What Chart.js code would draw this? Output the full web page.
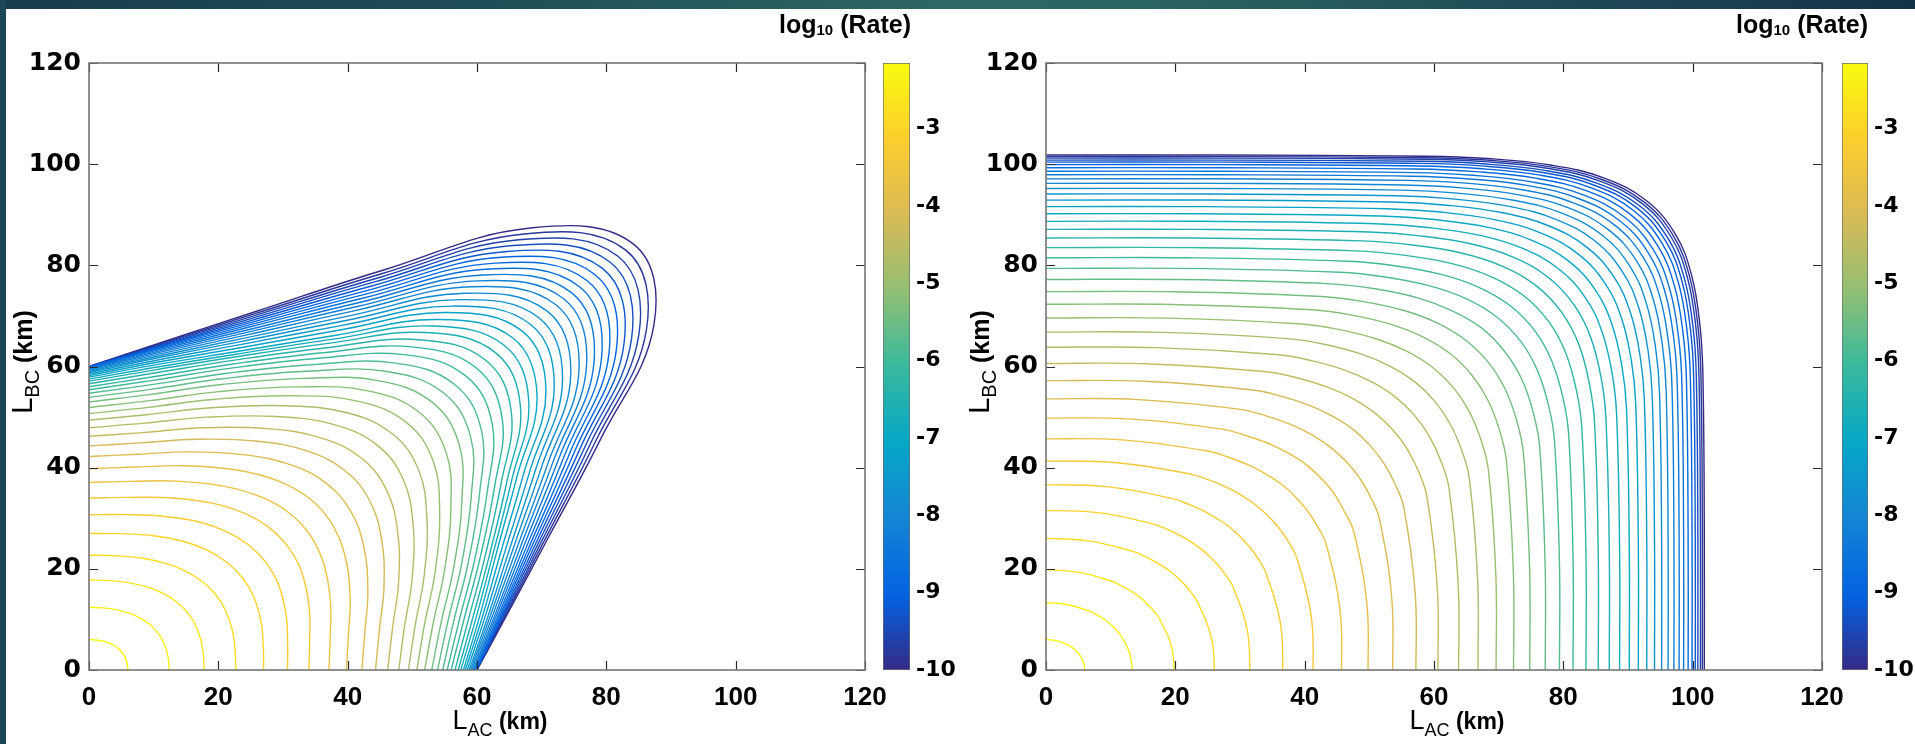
<!DOCTYPE html>
<html>
<head>
<meta charset="utf-8">
<script src="https://cdn.jsdelivr.net/npm/chart.js@4.4.0/dist/chart.umd.min.js"></script>
<style>
  body { margin: 0; width: 1915px; height: 744px; overflow: hidden; background: #fff; position: relative; }
  canvas { position: absolute; top: 0; }
  .bandTop { position: absolute; left: 0; top: 0; width: 1915px; height: 9px; z-index: 5;
    background: linear-gradient(90deg, #173c4c 0%, #1f4d57 25%, #2d6865 50%, #2b6562 60%, #1d4555 85%, #133447 100%); }
  .bandLeft { position: absolute; left: 0; top: 0; width: 6px; height: 744px; z-index: 5; background: #1b4656; }
</style>
</head>
<body>
<div class="bandTop"></div>
<div class="bandLeft"></div>
<canvas id="plotA" width="960" height="744" style="left:0px;width:960px;height:744px"></canvas>
<canvas id="barA" width="90" height="744" style="left:870px;width:90px;height:744px"></canvas>
<canvas id="plotB" width="958" height="744" style="left:957px;width:958px;height:744px"></canvas>
<canvas id="barB" width="86" height="744" style="left:1829px;width:86px;height:744px"></canvas>
<script>
// contour levels, log10(rate)
const levels = [-2.2,-2.4,-2.6,-2.8,-3.0,-3.2,-3.4,-3.6,-3.8,-4.0,-4.2,-4.4,-4.6,-4.8,-5.0,-5.2,-5.4,-5.6,-5.8,-6.0,
                -6.2,-6.4,-6.6,-6.8,-7.0,-7.2,-7.4,-7.6,-7.8,-8.0,-8.2,-8.4,-8.6,-8.8,-9.0,-9.2,-9.4,-9.6,-9.8,-10.0];
const axisTicks = [0, 20, 40, 60, 80, 100, 120];
const rateTicks = [-10, -9, -8, -7, -6, -5, -4, -3];
const rateTop = -2.15;

// left panel: distance from origin (km) of each contour along rays at these angles (deg)
const leftAngles = [0, 10, 20, 30, 38, 45];
const leftR0 = [6.0,12.4,17.8,22.7,27.0,30.7,34.0,37.1,39.8,42.2,44.3,46.2,47.9,49.4,50.7,51.9,53.0,53.9,54.7,55.4,
                56.0,56.6,57.1,57.5,57.9,58.2,58.5,58.8,59.0,59.2,59.4,59.55,59.7,59.8,59.85,59.9,59.93,59.96,59.98,60.0];
const leftR10 = [6.03,12.47,17.95,22.94,27.37,31.19,34.65,37.87,40.74,43.31,45.59,47.66,49.55,51.23,52.71,54.07,55.33,56.39,57.33,58.19,
                 58.93,59.66,60.3,60.83,61.35,61.82,62.27,62.72,63.09,63.45,63.8,64.1,64.4,64.66,64.87,65.09,65.28,65.48,65.66,65.85];
const leftR20 = [6.09,12.65,18.33,23.55,28.29,32.41,36.23,39.73,42.97,45.89,48.55,50.95,53.19,55.18,56.97,58.56,60.06,61.32,62.43,63.45,
                 64.33,65.14,65.86,66.44,67.0,67.74,68.44,69.14,69.77,70.4,70.99,71.54,72.1,72.61,73.09,73.57,74.04,74.5,74.96,75.42];
const leftR30 = [6.17,12.86,18.77,24.24,29.34,33.83,38.08,41.93,45.65,49.04,52.21,55.09,57.86,60.33,62.61,64.63,66.58,68.24,69.74,71.16,
                 72.42,73.57,74.63,75.54,76.42,77.61,78.73,79.84,80.91,81.99,82.98,83.95,84.92,85.87,86.79,87.72,88.64,89.55,90.46,91.37];
const leftR38 = [6.21,12.97,19.01,24.63,29.94,34.66,39.22,43.36,47.46,51.26,54.9,58.25,61.56,64.59,67.46,70.04,72.6,74.88,77.0,79.11,
                 81.06,82.87,84.66,86.3,87.92,89.67,91.3,92.92,94.53,96.15,97.63,99.11,100.6,102.07,103.54,105.01,106.48,107.93,109.4,110.87];
const leftR45 = [6.22,13.01,19.09,24.75,30.12,34.93,39.6,43.84,48.08,52.04,55.86,59.4,62.93,66.18,69.3,72.12,74.95,77.5,79.9,82.31,
                 84.57,86.69,88.81,90.79,92.77,94.75,96.59,98.43,100.27,102.11,103.8,105.5,107.2,108.89,110.59,112.29,113.99,115.68,117.38,119.08];

// right panel
const rightAngles = [0, 15, 30, 34, 38, 41.5, 45];
const rightR0 = [6.0,13.3,19.8,26.0,31.5,36.6,41.3,45.7,49.8,53.6,57.2,60.6,63.8,66.8,69.6,72.3,74.8,77.2,79.4,81.5,
                 83.5,85.4,87.1,88.7,90.2,91.6,92.9,94.1,95.2,96.2,97.1,97.9,98.6,99.3,99.9,100.4,100.8,101.2,101.5,101.8];
const rightR15 = [6.0,13.35,19.97,26.38,32.16,37.47,42.42,47.05,51.35,55.34,59.1,62.64,65.98,69.1,72.02,74.82,77.42,79.91,82.2,84.38,
                  86.45,88.41,90.18,91.83,93.38,94.83,96.18,97.42,98.56,99.6,100.53,101.36,102.08,102.8,103.43,103.94,104.36,104.77,105.08,105.39];
const rightR30 = [6.0,13.43,20.26,27.03,33.3,39.13,44.72,49.99,54.93,59.56,63.92,68.07,71.95,75.6,79.0,82.24,85.27,88.15,90.79,93.32,
                  95.68,97.95,99.97,101.87,103.65,105.3,106.84,108.25,109.55,110.73,111.78,112.72,113.54,114.36,115.06,115.65,116.12,116.59,116.94,117.29];
const rightR34 = [6.02,13.45,20.32,27.17,33.54,39.51,45.26,50.67,55.74,60.67,65.24,69.62,73.7,77.56,81.17,84.62,87.85,90.9,93.72,96.41,
                  98.93,101.34,103.52,105.53,107.42,109.2,110.83,112.34,113.72,114.97,116.1,117.1,117.97,118.84,119.59,120.22,120.72,121.22,121.6,121.97];
const rightR38 = [6.0,13.46,20.36,27.27,33.72,39.8,45.68,51.26,56.56,61.57,66.32,70.89,75.18,79.24,83.05,86.7,90.13,93.37,96.38,99.25,
                  101.96,104.56,106.88,109.03,111.05,112.94,114.7,116.32,117.8,119.15,120.37,121.46,122.39,123.33,124.14,124.81,125.34,125.89,126.3,126.7];
const rightR41 = [6.02,13.47,20.39,27.32,33.82,39.95,45.9,51.57,56.96,62.07,66.94,71.63,76.04,80.23,84.16,87.94,91.5,94.81,98.03,101.02,
                  103.84,106.55,109.0,111.27,113.4,115.4,117.26,118.96,120.53,121.96,123.25,124.39,125.39,126.38,127.24,127.96,128.53,129.11,129.54,129.97];
const rightR45 = [6.0,13.49,20.45,27.39,33.87,40.07,46.01,51.71,57.15,62.25,67.21,71.9,76.37,80.61,84.57,88.42,92.0,95.44,98.64,101.68,
                  104.56,107.31,109.8,112.13,114.31,116.33,118.23,120.0,121.6,123.05,124.37,125.55,126.57,127.6,128.48,129.2,129.79,130.39,130.82,131.26];

// parula-like colormap
const cmap = ['#352a87','#0363e1','#1485d4','#06a7c6','#38b99e','#92bf73','#d9ba56','#fcce2e','#f9fb0e'];

const ARIAL = "'Liberation Sans', Arial, sans-serif";
const WIDE = "'DejaVu Sans', 'Liberation Sans', sans-serif";

function hexRgb(h) {
  return [parseInt(h.substr(1,2),16), parseInt(h.substr(3,2),16), parseInt(h.substr(5,2),16)];
}
function parula(t) {
  t = Math.max(0, Math.min(1, t));
  const f = t * (cmap.length - 1);
  const i = Math.min(cmap.length - 2, Math.floor(f));
  const a = hexRgb(cmap[i]), b = hexRgb(cmap[i+1]), u = f - i;
  const c = a.map((v, j) => Math.round(v + (b[j] - v) * u));
  return 'rgb(' + c.join(',') + ')';
}

function buildContours(angles, radii, squareEnds) {
  return levels.map((lv, k) => {
    const half = angles.map((deg, i) => {
      const r = radii[i][k], a = deg * Math.PI / 180;
      return { x: r * Math.cos(a), y: r * Math.sin(a) };
    });
    // symmetric about the diagonal: swap x/y for the other half
    const other = half.slice(0, -1).reverse().map(p => ({ x: p.y, y: p.x }));
    let pts = half.concat(other);
    if (squareEnds) {
      // reflected points outside the axes so the ends meet the axes square
      pts = [{ x: half[1].x, y: -half[1].y }].concat(pts, [{ x: -half[1].y, y: half[1].x }]);
    }
    return {
      data: pts,
      borderColor: parula((lv - rateTicks[0]) / (rateTop - rateTicks[0])),
      borderWidth: 1.4,
      pointRadius: 0,
      showLine: true,
      tension: 0.4,
      fill: false
    };
  });
}

// frame + inward tick marks on all four sides
const framePlugin = {
  id: 'frame',
  afterDatasetsDraw(chart) {
    const { ctx, chartArea: a, scales } = chart;
    ctx.save();
    ctx.strokeStyle = '#2a2a2a';
    ctx.lineWidth = 1.2;
    ctx.beginPath();
    scales.x.ticks.forEach(t => {
      const px = Math.round(scales.x.getPixelForValue(t.value)) + 0.5;
      ctx.moveTo(px, a.bottom); ctx.lineTo(px, a.bottom - 9);
      ctx.moveTo(px, a.top); ctx.lineTo(px, a.top + 9);
    });
    scales.y.ticks.forEach(t => {
      const py = Math.round(scales.y.getPixelForValue(t.value)) + 0.5;
      ctx.moveTo(a.left, py); ctx.lineTo(a.left + 9, py);
      ctx.moveTo(a.right, py); ctx.lineTo(a.right - 9, py);
    });
    ctx.stroke();
    ctx.strokeStyle = '#767676';
    ctx.lineWidth = 1.6;
    ctx.strokeRect(a.left, a.top, a.right - a.left, a.bottom - a.top);
    ctx.restore();
  }
};

function drawRich(ctx, item) {
  ctx.save();
  ctx.translate(item.x, item.y);
  if (item.rot) ctx.rotate(item.rot);
  let w = 0;
  item.parts.forEach(p => { ctx.font = p.font; w += ctx.measureText(p.t).width; });
  let cx = item.align === 'right' ? -w : (item.align === 'center' ? -w / 2 : 0);
  ctx.fillStyle = '#000';
  ctx.textBaseline = 'alphabetic';
  ctx.textAlign = 'left';
  item.parts.forEach(p => {
    ctx.font = p.font;
    ctx.fillText(p.t, cx, p.dy || 0);
    cx += ctx.measureText(p.t).width;
  });
  ctx.restore();
}

function textPlugin(items) {
  return { id: 'texts', afterDraw(chart) { items.forEach(it => drawRich(chart.ctx, it)); } };
}

function axisTitle(sub, big) {
  return [
    { t: 'L', font: big + 'px ' + ARIAL },
    { t: sub, font: Math.round(big * 0.68) + 'px ' + ARIAL, dy: 7 },
    { t: ' (km)', font: 'bold ' + (big - 4) + 'px ' + ARIAL }
  ];
}

function drawPanel(id, angles, radii, squareEnds) {
  const items = [
    { x: 32, y: 362, rot: -Math.PI / 2, align: 'center', parts: axisTitle('BC', 29) },
    { x: 500, y: 729, align: 'center', parts: axisTitle('AC', 27) },
    { x: 911, y: 33, align: 'right', parts: [
      { t: 'log', font: 'bold 25px ' + ARIAL },
      { t: '10', font: 'bold 15px ' + ARIAL, dy: 2 },
      { t: ' (Rate)', font: 'bold 25px ' + ARIAL }
    ] }
  ];
  const el = document.getElementById(id);
  new Chart(el, {
    type: 'scatter',
    data: { datasets: buildContours(angles, radii, squareEnds) },
    options: {
      responsive: false,
      animation: false,
      devicePixelRatio: 1,
      events: [],
      elements: { line: { capBezierPoints: false } },
      layout: { padding: { left: 0, right: el.width - 865, top: 63, bottom: 0 } },
      plugins: { legend: { display: false }, tooltip: { enabled: false } },
      scales: {
        x: {
          type: 'linear', min: 0, max: 120,
          afterBuildTicks: s => { s.ticks = axisTicks.map(v => ({ value: v })); },
          afterFit: s => { s.height = 74; },
          grid: { display: false, drawTicks: false },
          border: { display: false },
          ticks: { color: '#000', padding: 12, maxRotation: 0, font: { family: ARIAL, size: 26, weight: 'bold' } }
        },
        y: {
          type: 'linear', min: 0, max: 120,
          afterBuildTicks: s => { s.ticks = axisTicks.map(v => ({ value: v })); },
          afterFit: s => { s.width = 89; },
          grid: { display: false, drawTicks: false },
          border: { display: false },
          ticks: { color: '#000', padding: 8, font: { family: WIDE, size: 25, weight: 'bold' } }
        }
      }
    },
    plugins: [framePlugin, textPlugin(items)]
  });
}

function drawColorbar(id, axisWidth) {
  const el = document.getElementById(id);
  new Chart(el, {
    type: 'bar',
    data: {
      labels: [''],
      datasets: [{
        data: [[rateTicks[0], rateTop]],
        backgroundColor: c => {
          const a = c.chart.chartArea;
          if (!a) return cmap[0];
          const g = c.chart.ctx.createLinearGradient(0, a.bottom, 0, a.top);
          cmap.forEach((col, i) => g.addColorStop(i / (cmap.length - 1), col));
          return g;
        },
        borderColor: '#6a6a6a',
        borderWidth: 1,
        borderSkipped: false,
        barPercentage: 1,
        categoryPercentage: 1
      }]
    },
    options: {
      responsive: false,
      animation: false,
      devicePixelRatio: 1,
      events: [],
      layout: { padding: { left: 13, right: 0, top: 63, bottom: 74 } },
      plugins: { legend: { display: false }, tooltip: { enabled: false } },
      scales: {
        x: { display: false },
        y: {
          position: 'right', min: rateTicks[0], max: rateTop,
          afterBuildTicks: s => { s.ticks = rateTicks.map(v => ({ value: v })); },
          afterFit: s => { s.width = axisWidth; },
          grid: { display: false, drawTicks: false },
          border: { display: false },
          ticks: { color: '#000', padding: 6, font: { family: WIDE, size: 22, weight: 'bold' } }
        }
      }
    }
  });
}

drawPanel('plotA', leftAngles, [leftR0, leftR10, leftR20, leftR30, leftR38, leftR45], false);
drawPanel('plotB', rightAngles, [rightR0, rightR15, rightR30, rightR34, rightR38, rightR41, rightR45], true);
drawColorbar('barA', 50);
drawColorbar('barB', 47);
</script>
</body>
</html>
